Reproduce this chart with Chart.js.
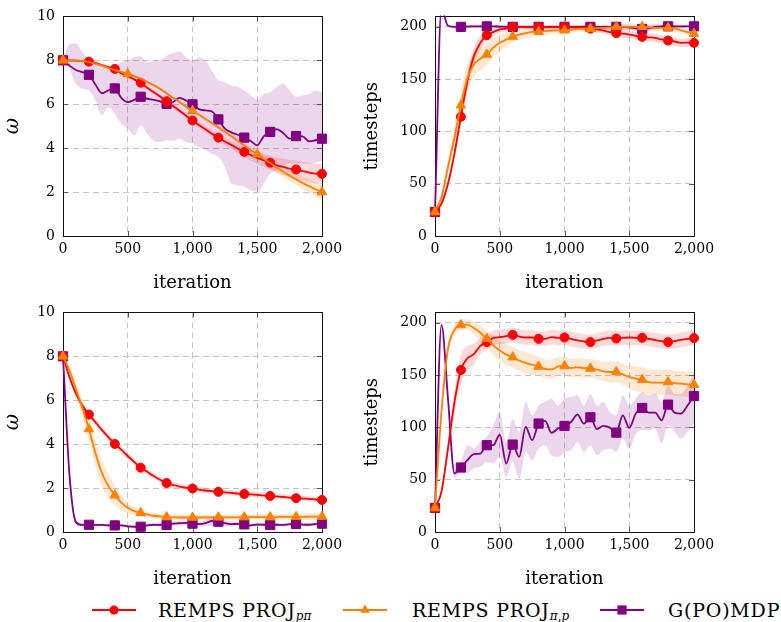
<!DOCTYPE html>
<html>
<head>
<meta charset="utf-8">
<script src="https://cdn.jsdelivr.net/npm/chart.js@4.4.1/dist/chart.umd.min.js"></script>
<style>
  body { margin: 0; background: #fff; width: 781px; height: 622px; position: relative; overflow: hidden; font-family: "DejaVu Serif", serif; }
  canvas { position: absolute; }
  .key { position: absolute; top: 598px; height: 24px; line-height: 24px; font-size: 19px; letter-spacing: 0.8px; color: #000; white-space: nowrap; }
  .key sub { font-size: 12px; vertical-align: -3px; line-height: 0; letter-spacing: 0; }
  svg { position: absolute; top: 603px; }
</style>
</head>
<body>
<canvas id="c1" width="355" height="300" style="left:0;top:0"></canvas>
<canvas id="c2" width="426" height="300" style="left:355px;top:0"></canvas>
<canvas id="c3" width="355" height="300" style="left:0;top:296px"></canvas>
<canvas id="c4" width="426" height="300" style="left:355px;top:296px"></canvas>

<svg width="44" height="14" style="left:92px"><line x1="0" y1="7" x2="44" y2="7" stroke="#ff0000" stroke-width="1.8"/><circle cx="22" cy="7" r="4.5" fill="#ff0000"/></svg>
<div class="key" style="left:158px">REMPS PROJ<sub><i>pπ</i></sub></div>
<svg width="44" height="14" style="left:343px"><line x1="0" y1="7" x2="44" y2="7" stroke="#ff8000" stroke-width="1.8"/><polygon points="22,1.5 26.8,9.8 17.2,9.8" fill="#ff8000"/></svg>
<div class="key" style="left:412px">REMPS PROJ<sub><i>π</i>,<i>p</i></sub></div>
<svg width="44" height="14" style="left:600px"><line x1="0" y1="7" x2="44" y2="7" stroke="#800080" stroke-width="1.8"/><rect x="17.4" y="2.4" width="9.2" height="9.2" fill="#800080"/></svg>
<div class="key" style="left:668px">G(PO)MDP</div>

<script>
const SERIF = '"DejaVu Serif", serif'
Chart.defaults.font.family = SERIF
Chart.defaults.color = '#000'

// iterations (x)
const iters = [0, 50, 100, 150, 200, 250, 300, 350, 400, 450, 500, 550, 600, 650, 700, 750, 800, 850, 900, 950,
  1000, 1050, 1100, 1150, 1200, 1250, 1300, 1350, 1400, 1450, 1500, 1550, 1600, 1650, 1700, 1750, 1800, 1850, 1900, 1950, 2000]
const xTicks = [0, 500, 1000, 1500, 2000]
const xTickLabels = ['0', '500', '1,000', '1,500', '2,000']
const omegaTicks = [0, 2, 4, 6, 8, 10]
const stepTicks = [0, 50, 100, 150, 200]

// top left: omega
const red1 = [8.0, 8.0, 7.99, 7.97, 7.94, 7.87, 7.78, 7.69, 7.61, 7.41, 7.28, 7.13, 6.98, 6.75, 6.55, 6.35, 6.14, 5.92, 5.7, 5.48,
  5.26, 5.05, 4.86, 4.66, 4.48, 4.3, 4.15, 3.98, 3.83, 3.68, 3.56, 3.45, 3.34, 3.22, 3.15, 3.07, 3.03, 2.95, 2.89, 2.84, 2.83]
const red1Spread = [0, 0.05, 0.06, 0.07, 0.08, 0.08, 0.08, 0.08, 0.08, 0.08, 0.08, 0.08, 0.08, 0.08, 0.08, 0.08, 0.09, 0.1, 0.1, 0.11,
  0.12, 0.13, 0.14, 0.15, 0.16, 0.17, 0.19, 0.21, 0.23, 0.25, 0.27, 0.3, 0.32, 0.35, 0.37, 0.39, 0.41, 0.43, 0.44, 0.45, 0.45]
const orange1 = [8.0, 8.0, 7.99, 7.97, 7.92, 7.85, 7.76, 7.65, 7.55, 7.47, 7.38, 7.28, 7.16, 7.02, 6.87, 6.7, 6.5, 6.3, 6.1, 5.9,
  5.7, 5.52, 5.33, 5.14, 4.95, 4.75, 4.55, 4.33, 4.12, 3.92, 3.72, 3.52, 3.32, 3.12, 2.93, 2.75, 2.58, 2.42, 2.27, 2.13, 2.0]
const orange1Spread = [0, 0.04, 0.05, 0.05, 0.05, 0.05, 0.05, 0.05, 0.05, 0.05, 0.05, 0.05, 0.05, 0.05, 0.06, 0.06, 0.06, 0.06, 0.07, 0.07,
  0.07, 0.08, 0.08, 0.09, 0.1, 0.11, 0.12, 0.13, 0.14, 0.15, 0.16, 0.17, 0.19, 0.21, 0.23, 0.25, 0.27, 0.29, 0.31, 0.33, 0.35]
const purple1 = [8.0, 7.76, 7.56, 7.46, 7.34, 6.9, 6.5, 6.63, 6.72, 6.29, 6.1, 6.2, 6.34, 6.25, 6.2, 6.13, 6.02, 6.1, 6.29, 6.17,
  6.0, 5.78, 5.72, 5.67, 5.31, 4.89, 4.72, 4.61, 4.48, 4.33, 4.13, 4.54, 4.74, 4.87, 4.69, 4.43, 4.55, 4.54, 4.31, 4.36, 4.43]
const purple1Hi = [8.0, 8.74, 8.77, 8.37, 8.06, 7.99, 7.76, 7.61, 7.69, 7.91, 8.02, 8.14, 8.17, 7.91, 7.99, 8.02, 8.21, 8.32, 8.4, 8.14,
  7.99, 8.14, 7.99, 7.53, 7.08, 7.0, 6.85, 6.78, 6.63, 6.4, 6.2, 6.47, 6.55, 6.78, 6.93, 6.63, 6.35, 6.4, 6.47, 6.63, 6.55]
const purple1Lo = [8.0, 7.61, 6.93, 6.7, 6.63, 6.17, 5.49, 5.87, 5.57, 5.11, 4.89, 4.58, 5.04, 4.66, 4.33, 4.28, 4.36, 4.33, 4.43, 4.28,
  4.21, 4.05, 3.9, 3.75, 3.6, 3.15, 2.39, 2.31, 2.24, 2.09, 2.0, 2.39, 2.84, 3.0, 3.2, 3.3, 3.3, 3.3, 3.3, 3.35, 3.4]

// top right: timesteps
const red2 = [23, 31, 50, 78.6, 114, 148, 172, 184.7, 192, 195, 197.7, 198.3, 200, 200, 200, 200, 200, 200, 200, 200,
  200, 199.8, 199.5, 199, 198.3, 197.5, 196.4, 195, 194, 193.5, 192.6, 191.5, 190.4, 190, 189.4, 188, 186.9, 186, 184.7, 185, 184.7]
const red2Spread = [0, 2, 4, 6, 8, 8, 8, 7, 5, 4, 3, 3, 2, 2, 2, 2, 2, 2, 2, 2,
  2, 2, 2, 3, 3, 3, 3, 3, 4, 4, 4, 4, 4, 4, 4, 4, 4, 4, 4, 4, 4]
const orange2 = [23, 37, 66, 94, 125, 151, 164, 169.5, 173.6, 180, 184.7, 187.8, 190.7, 192.6, 193.9, 195.1, 195.4, 196, 196.5, 196.6,
  196.7, 197.3, 198, 198.2, 198.3, 198.7, 199, 199.5, 200, 200, 200, 200, 200, 199.5, 199, 199, 199, 198.5, 196.7, 195, 193.5]
const orange2Spread = [0, 3, 6, 9, 12, 13, 12, 11, 10, 9, 8, 7, 6, 5, 5, 4, 4, 4, 3, 3,
  3, 3, 3, 3, 3, 3, 3, 3, 3, 3, 3, 3, 3, 3, 3, 3, 3, 3, 3, 3, 3]
const purple2 = [23, 218, 201, 200, 200, 200.3, 200.5, 200.5, 200.5, 200.5, 200.3, 200, 200, 200, 200, 200, 200, 200, 200, 200,
  200, 200, 200, 200, 200, 200, 200, 200, 200, 200, 199.5, 198.5, 198, 198.5, 200, 200.5, 200.5, 200.5, 200.5, 200.5, 200.5]
const purple2Spread = [0, 0, 1, 1.5, 1.5, 1.5, 1.5, 1.5, 1.5, 1.5, 1.5, 1.5, 1.5, 1.5, 1.5, 1.5, 1.5, 1.5, 1.5, 1.5,
  1.5, 1.5, 1.5, 1.5, 1.5, 1.5, 1.5, 1.5, 1.5, 2.5, 2.5, 2.5, 2.5, 2.5, 2.5, 1.5, 1.5, 1.5, 1.5, 1.5, 1.5]

// bottom left: omega
const red3 = [8.0, 7.05, 6.3, 5.75, 5.35, 5.0, 4.65, 4.32, 4.01, 3.75, 3.46, 3.19, 2.93, 2.74, 2.55, 2.38, 2.23, 2.14, 2.07, 2.02,
  1.98, 1.93, 1.89, 1.86, 1.83, 1.8, 1.78, 1.75, 1.73, 1.71, 1.69, 1.67, 1.64, 1.62, 1.6, 1.57, 1.54, 1.52, 1.51, 1.48, 1.46]
const red3Spread = [0, 0.1, 0.12, 0.13, 0.14, 0.15, 0.15, 0.15, 0.15, 0.15, 0.15, 0.14, 0.14, 0.13, 0.13, 0.12, 0.12, 0.12, 0.12, 0.12,
  0.12, 0.12, 0.12, 0.12, 0.12, 0.12, 0.12, 0.12, 0.12, 0.12, 0.12, 0.12, 0.12, 0.12, 0.12, 0.12, 0.12, 0.12, 0.12, 0.12, 0.12]
const orange3 = [8.0, 7.35, 6.5, 5.65, 4.69, 3.6, 2.7, 2.1, 1.67, 1.34, 1.1, 0.95, 0.87, 0.8, 0.74, 0.71, 0.68, 0.67, 0.66, 0.66,
  0.66, 0.66, 0.66, 0.67, 0.67, 0.67, 0.67, 0.67, 0.68, 0.68, 0.68, 0.68, 0.68, 0.68, 0.69, 0.69, 0.69, 0.69, 0.7, 0.7, 0.7]
const orange3Spread = [0, 0.2, 0.3, 0.4, 0.5, 0.6, 0.6, 0.55, 0.45, 0.35, 0.25, 0.2, 0.15, 0.12, 0.12, 0.12, 0.12, 0.12, 0.12, 0.12,
  0.12, 0.12, 0.12, 0.12, 0.12, 0.12, 0.12, 0.12, 0.12, 0.12, 0.12, 0.13, 0.13, 0.13, 0.13, 0.14, 0.14, 0.14, 0.15, 0.15, 0.15]
const purple3 = [8.0, 2.6, 0.45, 0.32, 0.33, 0.32, 0.32, 0.3, 0.3, 0.3, 0.26, 0.24, 0.24, 0.3, 0.33, 0.32, 0.32, 0.38, 0.4, 0.42,
  0.38, 0.36, 0.4, 0.5, 0.47, 0.4, 0.36, 0.37, 0.35, 0.3, 0.34, 0.33, 0.32, 0.33, 0.32, 0.36, 0.37, 0.34, 0.33, 0.36, 0.38]
const purple3Spread = [0, 0.3, 0.1, 0.06, 0.06, 0.06, 0.06, 0.06, 0.06, 0.06, 0.06, 0.06, 0.06, 0.06, 0.06, 0.1, 0.1, 0.1, 0.1, 0.1,
  0.1, 0.1, 0.15, 0.22, 0.25, 0.15, 0.08, 0.08, 0.08, 0.08, 0.08, 0.08, 0.08, 0.08, 0.08, 0.08, 0.08, 0.08, 0.08, 0.08, 0.08]

// bottom right: timesteps
const red4 = [23, 38.5, 79.8, 124, 155, 166, 170, 178, 181.6, 185.7, 186.3, 187.3, 188.5, 187, 186, 186, 184.7, 184.7, 186.3, 185.7,
  186, 184.7, 183.2, 182.2, 181.6, 183.2, 184.7, 185.7, 185, 185.7, 186, 185.7, 185.7, 184.7, 183.5, 182.5, 181.6, 182.5, 183.8, 184.7, 185.4]
const red4Spread = [0, 3, 6, 12, 14, 12, 10, 8, 7, 7, 7, 7, 7, 7, 7, 7, 7, 7, 7, 7,
  7, 7, 7, 7, 7, 7, 7, 7, 7, 7, 7, 7, 7, 7, 7, 7, 7, 7, 7, 7, 7]
const orange4 = [23, 115, 175, 193, 198, 198.4, 195, 190.5, 184.7, 178.4, 173.6, 169.8, 167.2, 164, 161.8, 160, 158.3, 156, 155.5, 158.3,
  158.7, 156.8, 157.4, 156.8, 156.4, 155.2, 153.6, 153, 153, 150.7, 148.2, 146.6, 145.6, 143.4, 142.8, 142.8, 143.4, 142.4, 141.8, 141.2, 140.9]
const orange4Spread = [0, 4, 5, 5, 5, 5, 6, 7, 8, 9, 10, 10, 10, 10, 10, 10, 9, 9, 9, 9,
  9, 9, 9, 9, 9, 9, 9, 10, 10, 10, 11, 12, 12, 12, 12, 12, 12, 12, 12, 12, 12]
const purple4 = [23, 198, 128, 56, 61.7, 68.7, 74.4, 75, 83, 83, 93.2, 65.5, 83.6, 71.9, 100.5, 87.8, 103.7, 106.2, 94.8, 98.9,
  101.4, 105.2, 112.2, 103.7, 109.7, 98.3, 101.4, 99.8, 95, 111.6, 99.5, 113.2, 118.6, 114.1, 114.1, 106.8, 121.8, 114.1, 113.2, 121, 130]
const purple4Hi = [23, 198, 128, 60, 67, 83, 79.8, 86, 91, 102, 115, 86, 108, 95.7, 124.3, 111.6, 121, 124.3, 127.5, 121,
  127.5, 129, 130.7, 121, 132, 121, 124.3, 114.8, 111.6, 130.7, 121, 127.5, 133.9, 130.7, 132, 124.3, 140, 132, 132, 140, 151]
const purple4Lo = [23, 198, 128, 52, 56, 56, 60.7, 62.3, 67, 65.5, 71.9, 52.8, 67, 51.2, 76.6, 68.7, 79.8, 83, 73.4, 71.9,
  76.6, 78.2, 86, 76.6, 83, 73.4, 78.2, 79.8, 76.6, 89.3, 79.8, 94, 97.3, 97.3, 98.9, 84.6, 102, 95.7, 89.3, 95.7, 103.7]

const RED = '#ff0000', ORANGE = '#ff8000', PURPLE = '#800080'
const RED_BAND = 'rgba(255,0,0,0.15)', ORANGE_BAND = 'rgba(255,128,0,0.18)', PURPLE_BAND = 'rgba(128,0,128,0.16)'

const plus = (a, s) => a.map((v, i) => v + s[i])
const minus = (a, s) => a.map((v, i) => v - s[i])

function lineSet(ys, color, style, r, every, order) {
  return {
    data: iters.map((x, i) => ({x, y: ys[i]})),
    borderColor: color,
    backgroundColor: color,
    borderWidth: 1.8,
    pointStyle: style,
    pointRadius: c => (c.dataIndex % every === 0 ? r : 0),
    pointBorderWidth: 1,
    cubicInterpolationMode: 'monotone',
    clip: {left: 10, top: 1, right: 10, bottom: 10},
    fill: false,
    order,
  }
}

function bandSets(hi, lo, color) {
  const base = {borderWidth: 0, pointRadius: 0, cubicInterpolationMode: 'monotone', order: 5}
  return [
    {...base, data: iters.map((x, i) => ({x, y: hi[i]})), fill: '+1', backgroundColor: color},
    {...base, data: iters.map((x, i) => ({x, y: lo[i]})), fill: false},
  ]
}

// frame and inward tick marks, like pgfplots
const frame = {
  id: 'frame',
  beforeDatasetsDraw(chart) {
    const {ctx, chartArea: a, scales: {x, y}} = chart
    ctx.save()
    ctx.strokeStyle = '#555'
    ctx.lineWidth = 1
    ctx.beginPath()
    x.ticks.forEach(t => {
      const px = Math.round(x.getPixelForValue(t.value)) + 0.5
      ctx.moveTo(px, a.bottom); ctx.lineTo(px, a.bottom - 5)
      ctx.moveTo(px, a.top); ctx.lineTo(px, a.top + 5)
    })
    y.ticks.forEach(t => {
      const py = Math.round(y.getPixelForValue(t.value)) + 0.5
      ctx.moveTo(a.left, py); ctx.lineTo(a.left + 5, py)
      ctx.moveTo(a.right, py); ctx.lineTo(a.right - 5, py)
    })
    ctx.stroke()
    ctx.strokeStyle = '#111'
    ctx.strokeRect(Math.round(a.left) + 0.5, Math.round(a.top) + 0.5, Math.round(a.width), Math.round(a.height))
    ctx.restore()
  }
}

function makeChart(id, opts) {
  new Chart(document.getElementById(id), {
    type: 'line',
    data: {datasets: opts.datasets},
    options: {
      responsive: false,
      animation: false,
      events: [],
      layout: {padding: {left: 0, right: opts.padRight, top: 15, bottom: 0}},
      plugins: {legend: {display: false}, tooltip: {enabled: false}},
      scales: {
        x: {
          type: 'linear',
          min: 0,
          max: 2000,
          afterBuildTicks: s => { s.ticks = xTicks.map(v => ({value: v})) },
          afterFit: s => { s.height = 64 },
          ticks: {autoSkip: false, maxRotation: 0, padding: 5, font: {family: SERIF, size: 14}, callback: (v, i) => xTickLabels[i]},
          grid: {color: '#c4c4c4', drawTicks: false},
          border: {display: false, dash: [6, 4]},
          title: {display: true, text: 'iteration', font: {family: SERIF, size: 18}, padding: {top: 0, bottom: 6}},
        },
        y: {
          type: 'linear',
          min: 0,
          max: opts.yMax,
          afterBuildTicks: s => { s.ticks = opts.yTicks.map(v => ({value: v})) },
          afterFit: s => { s.width = opts.yWidth },
          ticks: {autoSkip: false, padding: 8, font: {family: SERIF, size: 14}},
          grid: {color: '#c4c4c4', drawTicks: false},
          border: {display: false, dash: [6, 4]},
          title: {display: true, text: opts.yTitle, font: opts.yFont, padding: {top: opts.titlePad, bottom: 0}},
        },
      },
    },
    plugins: [frame],
  })
}

const omegaFont = {family: SERIF, size: 20, style: 'italic'}
const stepsFont = {family: SERIF, size: 18}

makeChart('c1', {
  yMax: 10, yTicks: omegaTicks, yWidth: 63, padRight: 33, yTitle: 'ω', yFont: omegaFont, titlePad: 1,
  datasets: [
    ...bandSets(purple1Hi, purple1Lo, PURPLE_BAND),
    ...bandSets(plus(red1, red1Spread), minus(red1, red1Spread), RED_BAND),
    ...bandSets(plus(orange1, orange1Spread), minus(orange1, orange1Spread), ORANGE_BAND),
    lineSet(purple1, PURPLE, 'rect', 6.5, 4, 2),
    lineSet(red1, RED, 'circle', 4.5, 4, 1),
    lineSet(orange1, ORANGE, 'triangle', 5.5, 10, 0),
  ],
})

makeChart('c2', {
  yMax: 210, yTicks: stepTicks, yWidth: 80, padRight: 87, yTitle: 'timesteps', yFont: stepsFont, titlePad: 7,
  datasets: [
    ...bandSets(plus(purple2, purple2Spread), minus(purple2, purple2Spread), PURPLE_BAND),
    ...bandSets(plus(red2, red2Spread), minus(red2, red2Spread), RED_BAND),
    ...bandSets(plus(orange2, orange2Spread), minus(orange2, orange2Spread), ORANGE_BAND),
    lineSet(purple2, PURPLE, 'rect', 6.5, 4, 2),
    lineSet(red2, RED, 'circle', 4.5, 4, 1),
    lineSet(orange2, ORANGE, 'triangle', 5.5, 4, 0),
  ],
})

makeChart('c3', {
  yMax: 10, yTicks: omegaTicks, yWidth: 63, padRight: 33, yTitle: 'ω', yFont: omegaFont, titlePad: 1,
  datasets: [
    ...bandSets(plus(purple3, purple3Spread), minus(purple3, purple3Spread), PURPLE_BAND),
    ...bandSets(plus(red3, red3Spread), minus(red3, red3Spread), RED_BAND),
    ...bandSets(plus(orange3, orange3Spread), minus(orange3, orange3Spread), ORANGE_BAND),
    lineSet(purple3, PURPLE, 'rect', 6.5, 4, 2),
    lineSet(red3, RED, 'circle', 4.5, 4, 1),
    lineSet(orange3, ORANGE, 'triangle', 5.5, 4, 0),
  ],
})

makeChart('c4', {
  yMax: 210, yTicks: stepTicks, yWidth: 80, padRight: 87, yTitle: 'timesteps', yFont: stepsFont, titlePad: 7,
  datasets: [
    ...bandSets(purple4Hi, purple4Lo, PURPLE_BAND),
    ...bandSets(plus(red4, red4Spread), minus(red4, red4Spread), RED_BAND),
    ...bandSets(plus(orange4, orange4Spread), minus(orange4, orange4Spread), ORANGE_BAND),
    lineSet(purple4, PURPLE, 'rect', 6.5, 4, 2),
    lineSet(red4, RED, 'circle', 4.5, 4, 1),
    lineSet(orange4, ORANGE, 'triangle', 5.5, 4, 0),
  ],
})
</script>
</body>
</html>
